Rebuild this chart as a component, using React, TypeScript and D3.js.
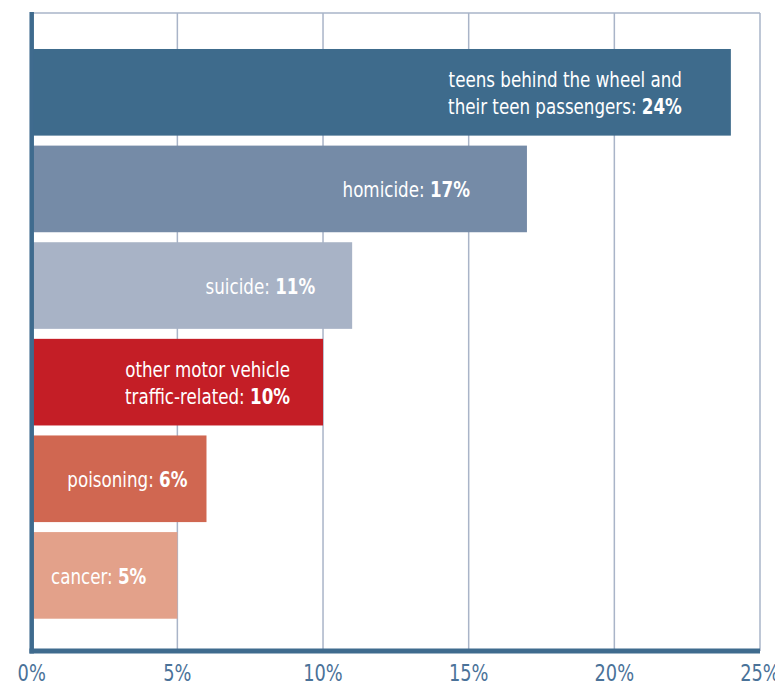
import React, { useEffect, useRef } from 'react';
import * as d3 from 'd3';

// Leading causes, share of deaths (%)
const causes = [
  ['teens behind the wheel and', 'their teen passengers:'],
  ['homicide:'],
  ['suicide:'],
  ['other motor vehicle', 'traffic-related:'],
  ['poisoning:'],
  ['cancer:'],
];
const shares = [24, 17, 11, 10, 6, 5];
const barColors = ['#3e6b8c', '#758ba7', '#a8b3c6', '#c41e26', '#d06751', '#e3a18a'];
const ticks = [0, 5, 10, 15, 20, 25];

// distance (px) between the end of each bar and the end of its label
const labelInset = [49, 57, 37, 33, 19, 31];

const W = 775;
const H = 687;
const FONT = '"DejaVu Sans", sans-serif';
// squeeze DejaVu Condensed a bit more so it reads like a narrow grotesque
const SQUEEZE = 0.885;

const App = () => {
  const ref = useRef<SVGSVGElement>(null);

  useEffect(() => {
    if (!ref.current) return;
    const svg = d3.select(ref.current);
    svg.selectAll('*').remove();

    const top = 13, bottom = 651;
    const x = d3.scaleLinear().domain([0, 25]).range([31.7, 760]);
    const y = d3.scaleBand<number>()
      .domain(d3.range(shares.length))
      .range([39, 628.7])
      .padding(0.1034);

    const squeezeAt = (cx: number, k: number) =>
      `translate(${cx},0) scale(${k},1) translate(${-cx},0)`;

    // grid lines
    svg.append('g')
      .selectAll('line')
      .data(ticks.slice(1))
      .join('line')
      .attr('x1', d => x(d)).attr('x2', d => x(d))
      .attr('y1', top).attr('y2', bottom)
      .attr('stroke', '#a9b4c8')
      .attr('stroke-width', 1.5);

    // top frame line
    svg.append('line')
      .attr('x1', x(0)).attr('x2', x(25))
      .attr('y1', top).attr('y2', top)
      .attr('stroke', '#a9b4c8')
      .attr('stroke-width', 1.5);

    // bars
    svg.append('g')
      .selectAll('rect')
      .data(shares)
      .join('rect')
      .attr('x', x(0))
      .attr('y', (_, i) => y(i) ?? 0)
      .attr('width', d => x(d) - x(0))
      .attr('height', y.bandwidth())
      .attr('fill', (_, i) => barColors[i]);

    // labels inside bars
    const labels = svg.append('g')
      .selectAll('text')
      .data(shares)
      .join('text')
      .attr('text-anchor', 'end')
      .attr('fill', '#fff')
      .style('font-family', FONT)
      .style('font-stretch', 'condensed')
      .style('font-size', '21px');

    labels.each(function (d, i) {
      const t = d3.select(this);
      const lines = causes[i];
      const cx = x(d) - labelInset[i];
      const cy = (y(i) ?? 0) + y.bandwidth() / 2;
      const base = lines.length === 1 ? [cy + 8.5] : [cy - 5, cy + 22];
      t.attr('transform', squeezeAt(cx, SQUEEZE));
      lines.forEach((line, k) => {
        const ts = t.append('tspan').attr('x', cx).attr('y', base[k]).text(line);
        if (k === lines.length - 1) {
          ts.text(line + ' ');
          t.append('tspan').attr('font-weight', 'bold').text(`${d}%`);
        }
      });
    });

    // axes
    svg.append('line')
      .attr('x1', x(0)).attr('x2', x(0))
      .attr('y1', top - 1).attr('y2', bottom + 2.5)
      .attr('stroke', '#3f6b8e')
      .attr('stroke-width', 4.5);
    svg.append('line')
      .attr('x1', x(0) - 2.25).attr('x2', x(25))
      .attr('y1', bottom).attr('y2', bottom)
      .attr('stroke', '#3f6b8e')
      .attr('stroke-width', 5);

    // tick labels
    svg.append('g')
      .selectAll('text')
      .data(ticks)
      .join('text')
      .attr('x', d => x(d))
      .attr('y', 681.5)
      .attr('transform', d => squeezeAt(x(d), 0.86))
      .attr('text-anchor', 'middle')
      .attr('fill', '#4a7299')
      .style('font-family', FONT)
      .style('font-stretch', 'condensed')
      .style('font-size', '23px')
      .text(d => `${d}%`);
  }, []);

  return (
    <svg
      ref={ref}
      width={W}
      height={H}
      style={{ position: 'absolute', left: 0, top: 0, background: '#fff' }}
    />
  );
};

export default App;
